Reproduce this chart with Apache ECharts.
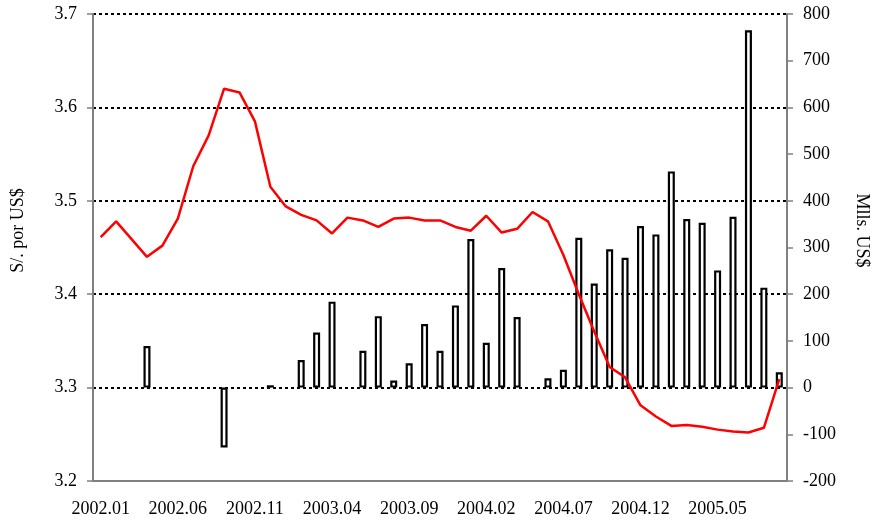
<!DOCTYPE html>
<html>
<head>
<meta charset="utf-8">
<script src="https://cdn.jsdelivr.net/npm/echarts@6/dist/echarts.min.js"></script>
<style>
  html, body { margin: 0; padding: 0; background: #fff; }
  #chart { width: 879px; height: 526px; }
</style>
</head>
<body>
<div id="chart"></div>
<script>
// monthly categories, 2002.01 - 2005.09
const months = [
  '2002.01', '2002.02', '2002.03', '2002.04', '2002.05', '2002.06', '2002.07', '2002.08', '2002.09', '2002.10', '2002.11', '2002.12',
  '2003.01', '2003.02', '2003.03', '2003.04', '2003.05', '2003.06', '2003.07', '2003.08', '2003.09', '2003.10', '2003.11', '2003.12',
  '2004.01', '2004.02', '2004.03', '2004.04', '2004.05', '2004.06', '2004.07', '2004.08', '2004.09', '2004.10', '2004.11', '2004.12',
  '2005.01', '2005.02', '2005.03', '2005.04', '2005.05', '2005.06', '2005.07', '2005.08', '2005.09'
]

// exchange rate, S/. per US$ (left axis)
const exchangeRate = [
  3.461, 3.478, 3.459, 3.440, 3.452, 3.481, 3.537, 3.570, 3.620, 3.616, 3.585, 3.515,
  3.494, 3.485, 3.479, 3.465, 3.482, 3.479, 3.472, 3.481, 3.482, 3.479, 3.479, 3.472,
  3.468, 3.484, 3.466, 3.470, 3.488, 3.478, 3.442, 3.400, 3.360, 3.322, 3.311, 3.281,
  3.269, 3.259, 3.260, 3.258, 3.255, 3.253, 3.252, 3.257, 3.309
]

// monthly amounts, millions of US$ (right axis); null = no bar
const amounts = [
  null, null, null, 89, null, null, null, null, -128, null, null, 5,
  null, 59, 118, 184, null, 79, 153, 15, 52, 136, 79, 176,
  318, 96, 256, 151, null, 20, 38, 321, 223, 296, 278, 346,
  328, 463, 361, 353, 251, 366, 765, 214, 33
]

const leftTicks = { min: 3.2, max: 3.7, step: 0.1 }
const rightTicks = { min: -200, max: 800, step: 100 }

const font = 'Liberation Serif'
const axisGray = '#808080'

const chart = echarts.init(document.getElementById('chart'))

const option = {
  animation: false,
  backgroundColor: '#fff',
  textStyle: { fontFamily: font },
  grid: { left: 93, right: 87, top: 14, bottom: 45 },
  xAxis: {
    type: 'category',
    data: months,
    boundaryGap: true,
    axisLine: { onZero: false, lineStyle: { color: axisGray, width: 2 } },
    axisTick: { interval: 0, length: 7, lineStyle: { color: axisGray, width: 1.5 } },
    axisLabel: { interval: 4, margin: 19, color: '#000', fontFamily: font, fontSize: 18 },
    splitLine: { show: false },
  },
  yAxis: [
    {
      type: 'value',
      position: 'left',
      min: leftTicks.min,
      max: leftTicks.max,
      interval: leftTicks.step,
      name: 'S/. por US$',
      nameLocation: 'middle',
      nameRotate: 90,
      nameGap: 66,
      nameTextStyle: { color: '#000', fontFamily: font, fontSize: 18, padding: [0, 0, 0, 34] },
      axisLine: { show: true, lineStyle: { color: axisGray, width: 2 } },
      axisTick: { show: true, length: 6, lineStyle: { color: axisGray, width: 1.5 } },
      axisLabel: {
        margin: 16,
        color: '#000',
        fontFamily: font,
        fontSize: 18,
        formatter: (v) => v.toFixed(1),
      },
      splitLine: { show: true, lineStyle: { color: '#000', width: 2, type: [3, 3] } },
    },
    {
      type: 'value',
      position: 'right',
      min: rightTicks.min,
      max: rightTicks.max,
      interval: rightTicks.step,
      name: 'Mlls. US$',
      nameLocation: 'middle',
      nameRotate: -90,
      nameGap: 66,
      nameTextStyle: { color: '#000', fontFamily: font, fontSize: 18, padding: [0, 34, 0, 0] },
      axisLine: { show: true, lineStyle: { color: axisGray, width: 2 } },
      axisTick: { show: true, length: 6, lineStyle: { color: axisGray, width: 1.5 } },
      axisLabel: { margin: 16, color: '#000', fontFamily: font, fontSize: 18 },
      splitLine: { show: false },
    },
  ],
  series: [
    {
      name: 'Mlls. US$',
      type: 'bar',
      yAxisIndex: 1,
      barWidth: 7,
      itemStyle: { color: '#fff', borderColor: '#000', borderWidth: 2.2 },
      data: amounts,
    },
    {
      name: 'S/. por US$',
      type: 'line',
      yAxisIndex: 0,
      symbol: 'none',
      smooth: false,
      lineStyle: { color: '#ff0000', width: 2.5 },
      z: 5,
      data: exchangeRate,
    },
  ],
}

chart.setOption(option)
</script>
</body>
</html>
